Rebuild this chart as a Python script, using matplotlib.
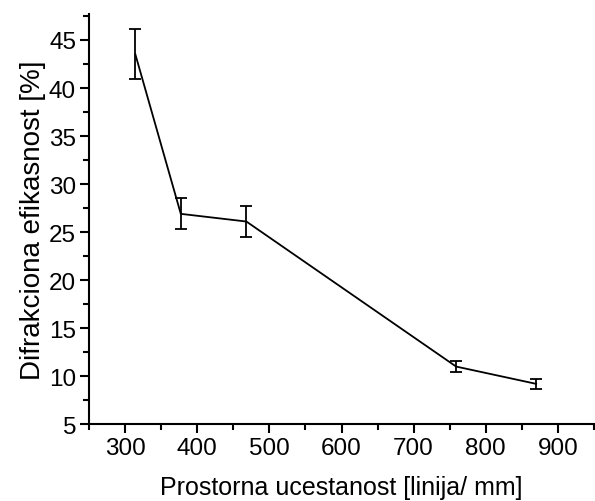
import numpy as np
import matplotlib
matplotlib.use("Agg")
import matplotlib.pyplot as plt
from matplotlib.ticker import MultipleLocator

plt.rcParams["font.family"] = ["Liberation Sans", "DejaVu Sans"]

# Prostorna ucestanost [linija/mm] vs difrakciona efikasnost [%]
frequency = [314, 377, 468, 759, 870]
efficiency = [43.5, 26.9, 26.1, 11.0, 9.2]
error = [2.6, 1.6, 1.6, 0.6, 0.55]

fig = plt.figure(figsize=(5.95, 5.02), dpi=100)
ax = fig.add_axes([0.15, 0.153, 0.848, 0.817])

ax.errorbar(frequency, efficiency, yerr=error, color="black", lw=1.3,
            elinewidth=1.3, capsize=4, capthick=1.3)

ax.set_xlim(250, 950)
ax.set_ylim(5, 47.7)
ax.xaxis.set_major_locator(MultipleLocator(100))
ax.xaxis.set_minor_locator(MultipleLocator(50))
ax.yaxis.set_major_locator(MultipleLocator(5))
ax.yaxis.set_minor_locator(MultipleLocator(2.5))
ax.set_xticks(np.arange(300, 901, 100))

for side in ["top", "right"]:
    ax.spines[side].set_visible(False)
for side in ["left", "bottom"]:
    ax.spines[side].set_linewidth(1.5)

ax.tick_params(which="major", direction="out", length=6.5, width=1.5,
               labelsize=17.5, pad=3)
ax.tick_params(which="minor", direction="out", length=4, width=1.5)

ax.set_xlabel("Prostorna ucestanost [linija/ mm]", fontsize=18, labelpad=11)
ax.set_ylabel("Difrakciona efikasnost [%]", fontsize=20, labelpad=2)

fig.savefig("out.png", dpi=100)
